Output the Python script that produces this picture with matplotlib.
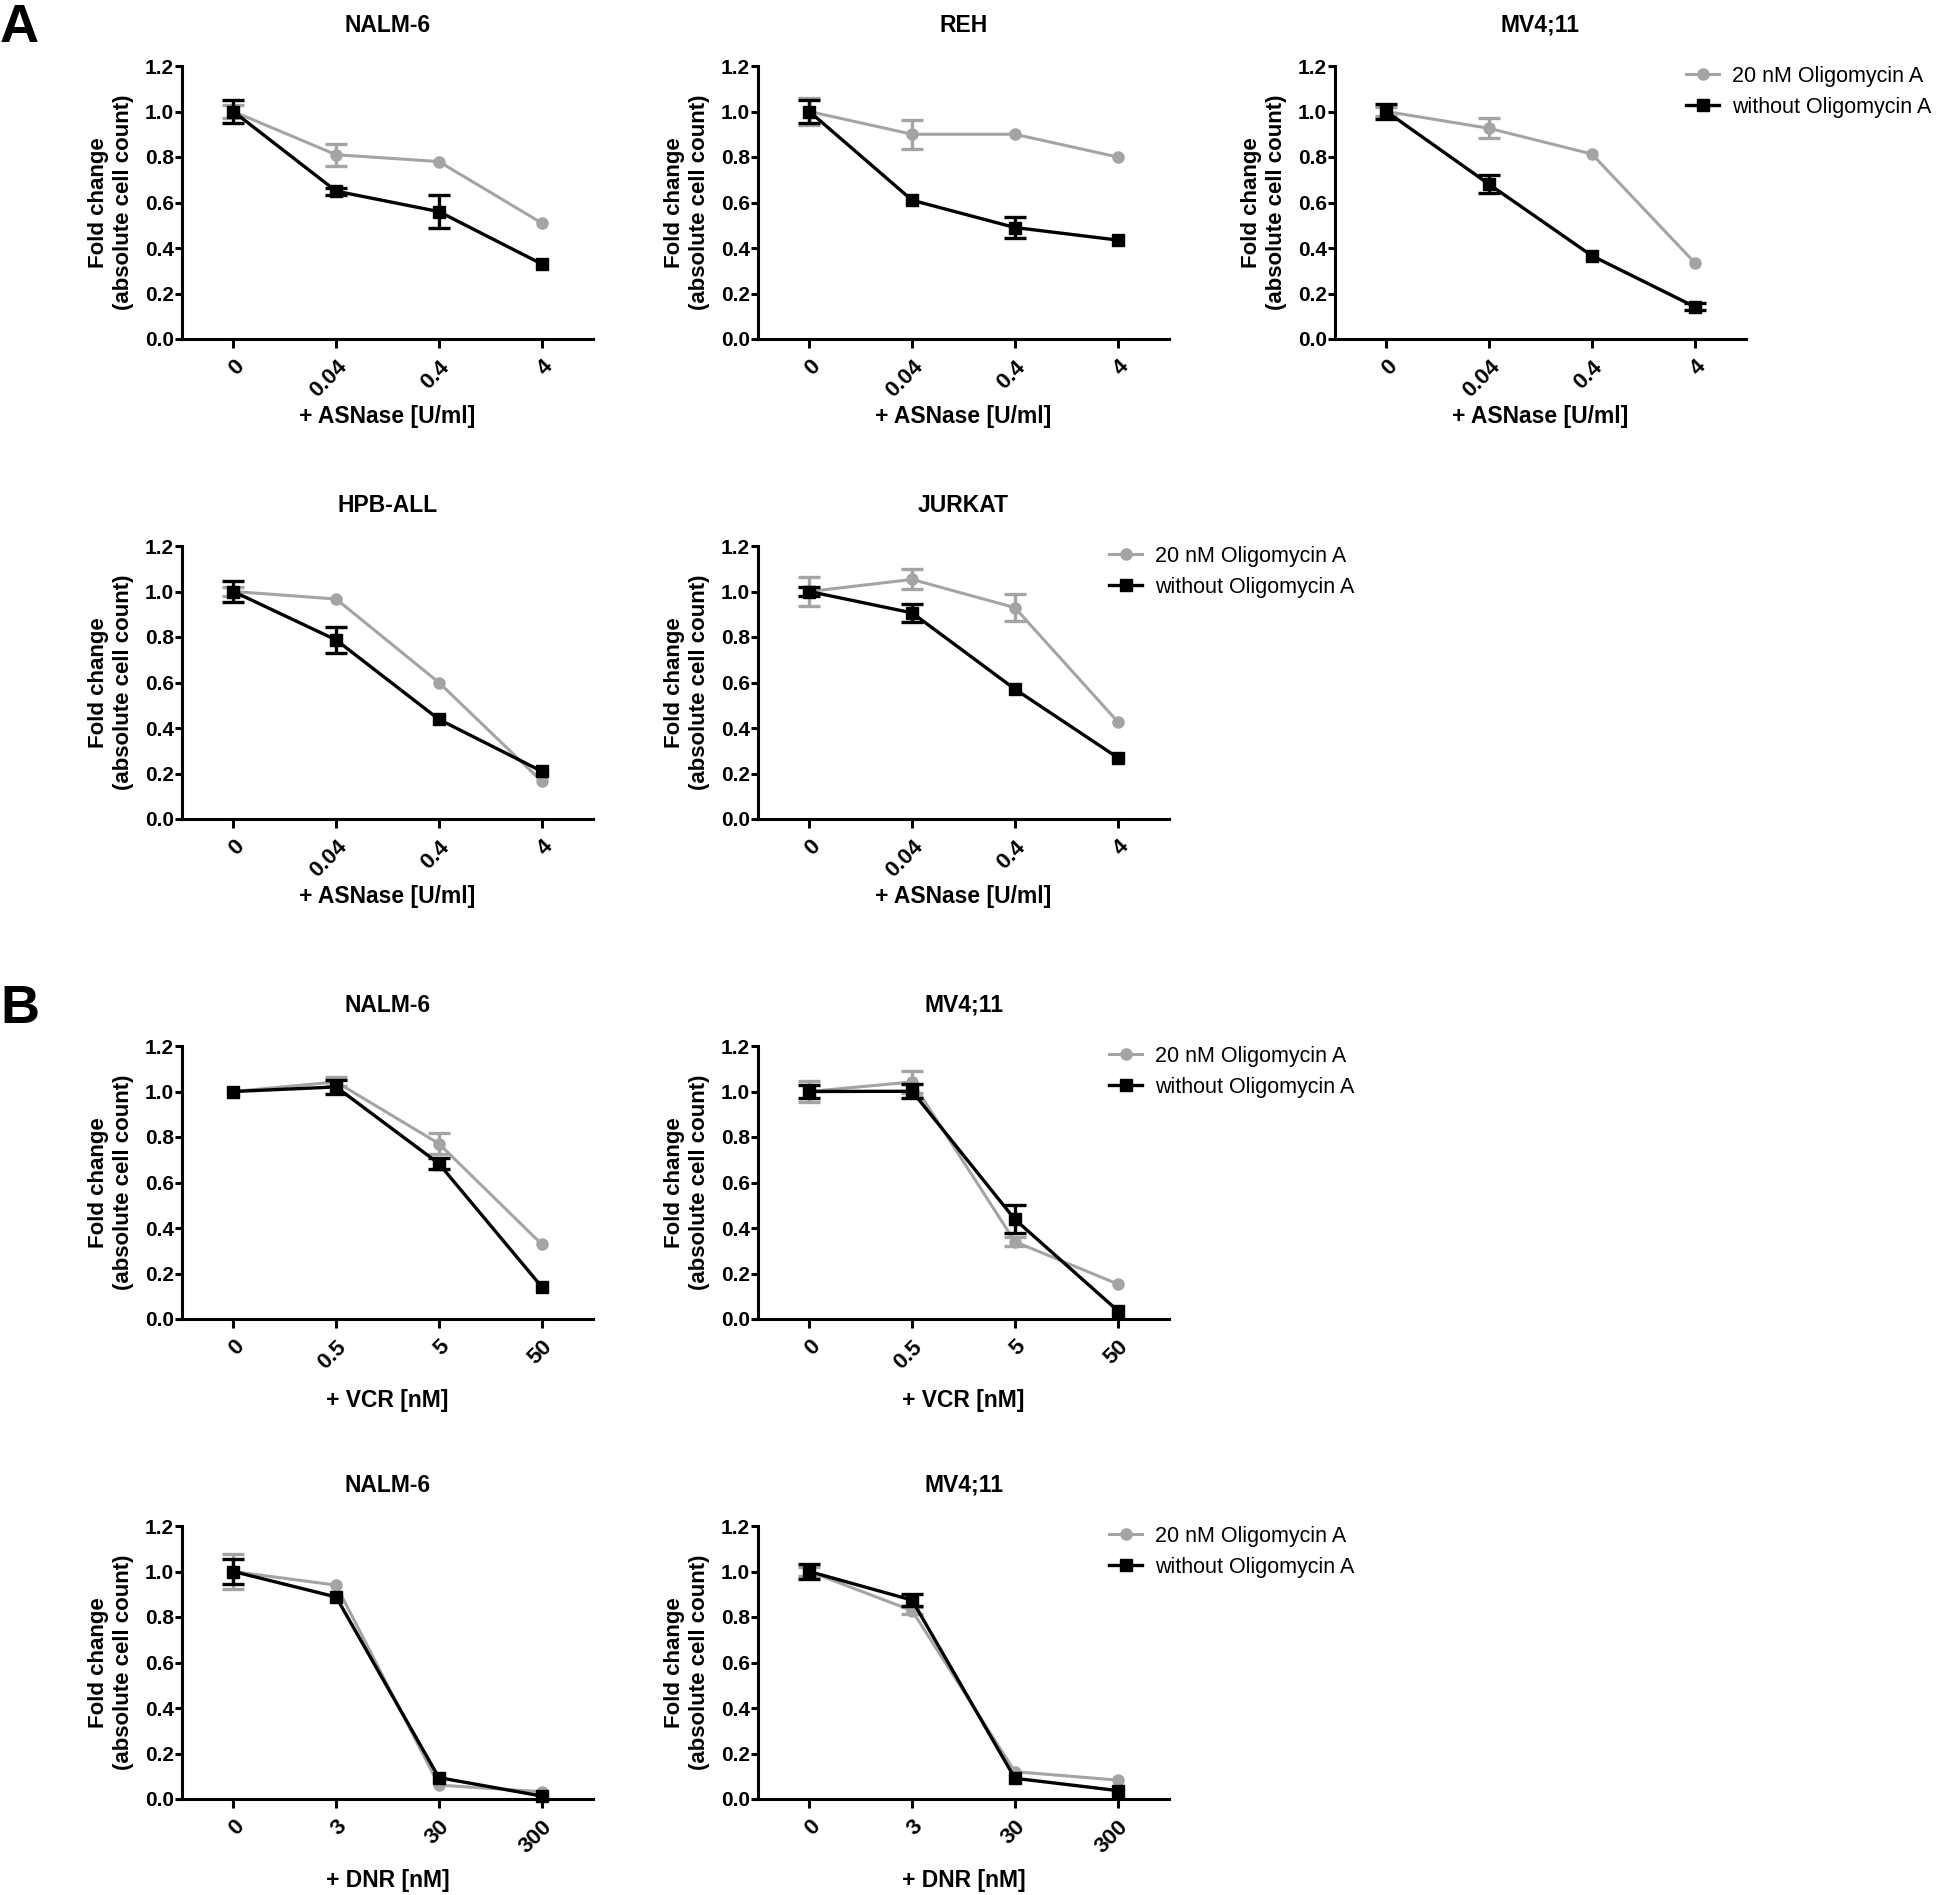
import matplotlib
matplotlib.use('Agg')
import matplotlib.pyplot as plt

plt.rcParams['font.family'] = ['Liberation Sans', 'DejaVu Sans']

# ---------------- data ----------------
asn_ticks = ['0', '0.04', '0.4', '4']
vcr_ticks = ['0', '0.5', '5', '50']
dnr_ticks = ['0', '3', '30', '300']

series_labels = ['20 nM Oligomycin A', 'without Oligomycin A']

# Panel A - ASNase   (error 0 = error bar hidden behind the marker)
nalm6_asn_oligo = [1.00, 0.81, 0.78, 0.51]
nalm6_asn_oligo_err = [0.03, 0.048, 0, 0]
nalm6_asn_ctrl = [1.00, 0.65, 0.56, 0.33]
nalm6_asn_ctrl_err = [0.05, 0.015, 0.073, 0]

reh_asn_oligo = [1.00, 0.90, 0.90, 0.80]
reh_asn_oligo_err = [0.06, 0.063, 0, 0]
reh_asn_ctrl = [1.00, 0.61, 0.49, 0.435]
reh_asn_ctrl_err = [0.05, 0, 0.046, 0]

mv411_asn_oligo = [1.00, 0.926, 0.813, 0.336]
mv411_asn_oligo_err = [0.02, 0.044, 0, 0]
mv411_asn_ctrl = [1.00, 0.68, 0.366, 0.142]
mv411_asn_ctrl_err = [0.035, 0.04, 0, 0.015]

hpb_asn_oligo = [1.00, 0.967, 0.60, 0.166]
hpb_asn_oligo_err = [0.02, 0, 0, 0]
hpb_asn_ctrl = [1.00, 0.787, 0.438, 0.21]
hpb_asn_ctrl_err = [0.045, 0.058, 0, 0]

jurkat_asn_oligo = [1.00, 1.053, 0.929, 0.428]
jurkat_asn_oligo_err = [0.064, 0.044, 0.06, 0]
jurkat_asn_ctrl = [1.00, 0.906, 0.571, 0.27]
jurkat_asn_ctrl_err = [0.02, 0.04, 0, 0]

# Panel B - VCR
nalm6_vcr_oligo = [1.00, 1.042, 0.771, 0.329]
nalm6_vcr_oligo_err = [0, 0.02, 0.047, 0]
nalm6_vcr_ctrl = [1.00, 1.02, 0.683, 0.142]
nalm6_vcr_ctrl_err = [0, 0.03, 0.025, 0]

mv411_vcr_oligo = [1.00, 1.042, 0.34, 0.154]
mv411_vcr_oligo_err = [0.045, 0.05, 0.02, 0]
mv411_vcr_ctrl = [1.00, 1.001, 0.438, 0.037]
mv411_vcr_ctrl_err = [0.03, 0.03, 0.062, 0]

# Panel B - DNR
nalm6_dnr_oligo = [1.00, 0.94, 0.061, 0.032]
nalm6_dnr_oligo_err = [0.078, 0, 0, 0]
nalm6_dnr_ctrl = [1.00, 0.888, 0.094, 0.013]
nalm6_dnr_ctrl_err = [0.055, 0, 0, 0]

mv411_dnr_oligo = [1.00, 0.828, 0.12, 0.083]
mv411_dnr_oligo_err = [0.02, 0.015, 0, 0]
mv411_dnr_ctrl = [1.00, 0.874, 0.091, 0.037]
mv411_dnr_ctrl_err = [0.035, 0.025, 0, 0]

# ---------------- layout ----------------
W, H = 1946, 1895
fig = plt.figure(figsize=(W / 100, H / 100), dpi=100)

GREY = '#a4a4a7'
BLACK = '#000000'
AX_W, AX_H = 411, 273
col_left = [182, 758, 1335]
row_top = [66, 546, 1046, 1526]
xlabel_off = [78, 78, 81, 81]

panels = [
    ('NALM-6', asn_ticks, '+ ASNase [U/ml]', 0, 0, nalm6_asn_oligo, nalm6_asn_oligo_err, nalm6_asn_ctrl, nalm6_asn_ctrl_err, False),
    ('REH', asn_ticks, '+ ASNase [U/ml]', 0, 1, reh_asn_oligo, reh_asn_oligo_err, reh_asn_ctrl, reh_asn_ctrl_err, False),
    ('MV4;11', asn_ticks, '+ ASNase [U/ml]', 0, 2, mv411_asn_oligo, mv411_asn_oligo_err, mv411_asn_ctrl, mv411_asn_ctrl_err, True),
    ('HPB-ALL', asn_ticks, '+ ASNase [U/ml]', 1, 0, hpb_asn_oligo, hpb_asn_oligo_err, hpb_asn_ctrl, hpb_asn_ctrl_err, False),
    ('JURKAT', asn_ticks, '+ ASNase [U/ml]', 1, 1, jurkat_asn_oligo, jurkat_asn_oligo_err, jurkat_asn_ctrl, jurkat_asn_ctrl_err, True),
    ('NALM-6', vcr_ticks, '+ VCR [nM]', 2, 0, nalm6_vcr_oligo, nalm6_vcr_oligo_err, nalm6_vcr_ctrl, nalm6_vcr_ctrl_err, False),
    ('MV4;11', vcr_ticks, '+ VCR [nM]', 2, 1, mv411_vcr_oligo, mv411_vcr_oligo_err, mv411_vcr_ctrl, mv411_vcr_ctrl_err, True),
    ('NALM-6', dnr_ticks, '+ DNR [nM]', 3, 0, nalm6_dnr_oligo, nalm6_dnr_oligo_err, nalm6_dnr_ctrl, nalm6_dnr_ctrl_err, False),
    ('MV4;11', dnr_ticks, '+ DNR [nM]', 3, 1, mv411_dnr_oligo, mv411_dnr_oligo_err, mv411_dnr_ctrl, mv411_dnr_ctrl_err, True),
]


def draw_err(ax, x, y, err, color, z):
    idx = [i for i in range(len(x)) if err[i] > 0]
    if not idx:
        return
    ax.errorbar([x[i] for i in idx], [y[i] for i in idx],
                yerr=[err[i] for i in idx], fmt='none', ecolor=color,
                elinewidth=2.4, capsize=8, capthick=2.4, clip_on=False,
                zorder=z)


for (title, ticks, xlabel, r, c, og, oge, ct, cte, leg) in panels:
    left = col_left[c]
    top = row_top[r]
    ax = fig.add_axes([left / W, 1 - (top + AX_H) / H, AX_W / W, AX_H / H])
    x = list(range(len(ticks)))

    draw_err(ax, x, og, oge, GREY, 2)
    l1, = ax.plot(x, og, color=GREY, lw=2.2, marker='o', ms=8,
                  mfc=GREY, mec=GREY, clip_on=False, zorder=3)
    draw_err(ax, x, ct, cte, BLACK, 4)
    l2, = ax.plot(x, ct, color=BLACK, lw=2.4, marker='s', ms=8.3,
                  mfc=BLACK, mec=BLACK, clip_on=False, zorder=5)

    ax.set_xlim(-0.5, 3.5)
    ax.set_ylim(0, 1.2)
    ax.set_yticks([0, 0.2, 0.4, 0.6, 0.8, 1.0, 1.2])
    ax.set_yticklabels(['0.0', '0.2', '0.4', '0.6', '0.8', '1.0', '1.2'],
                       fontsize=15, fontweight='bold')
    ax.set_xticks(x)
    ax.set_xticklabels(ticks, rotation=45, ha='right', va='top',
                       rotation_mode='anchor', fontsize=16, fontweight='bold')
    for s in ['top', 'right']:
        ax.spines[s].set_visible(False)
    for s in ['left', 'bottom']:
        ax.spines[s].set_linewidth(2.2)
    ax.tick_params(axis='y', direction='out', length=5, width=2.2, pad=1)
    ax.tick_params(axis='x', direction='out', length=6.5, width=2.2, pad=6)

    ax.set_ylabel('Fold change\n(absolute cell count)', fontsize=16,
                  fontweight='bold', multialignment='center', linespacing=1.3,
                  va='center')
    ax.yaxis.set_label_coords(-71 / AX_W, 0.5)

    ax.text(0.5, 1 + 41 / AX_H, title, transform=ax.transAxes, ha='center',
            va='center', fontsize=16.5, fontweight='bold')
    ax.text(0.5, -xlabel_off[r] / AX_H, xlabel, transform=ax.transAxes,
            ha='center', va='center', fontsize=16.5, fontweight='bold')

    if leg:
        ax.legend([l1, l2], series_labels, loc='upper left',
                  bbox_to_anchor=(0.855, 1.0), frameon=False, borderpad=0,
                  borderaxespad=0, handlelength=1.5, handletextpad=0.6,
                  labelspacing=0.45, fontsize=15.5)

fig.text(0.0, 1 - 42 / H, 'A', fontsize=39, fontweight='bold', ha='left', va='baseline')
fig.text(0.0, 1 - 1023 / H, 'B', fontsize=39, fontweight='bold', ha='left', va='baseline')

fig.savefig('out.png', dpi=100)
